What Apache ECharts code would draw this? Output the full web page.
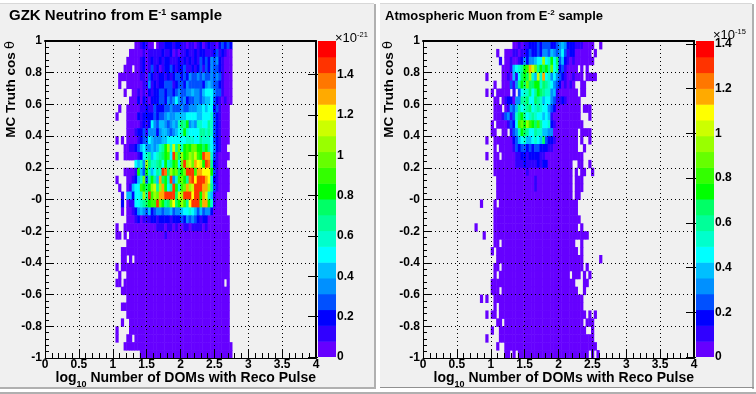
<!DOCTYPE html>
<html>
<head>
<meta charset="utf-8">
<style>html,body{margin:0;padding:0;background:#fff}#main{width:756px;height:394px}</style>
<script src="https://cdn.jsdelivr.net/npm/echarts@6/dist/echarts.min.js"></script>
</head>
<body>
<div id="main"></div>
<script>
// 20 palette bands of the ROOT colour scale, bottom to top
var palette = ['#6600ff','#3000ff','#0000ff','#0050ff','#0090ff','#00bfff','#00ffff','#00ffcc','#00ff99','#00ff66',
	'#00ff00','#33ff00','#66ff00','#99ff00','#ccff00','#ffff00','#ffaa00','#ff7700','#ff3300','#ff0000'];
var xTicks = 0.5, yTicks = 0.2;
var gzkMax = 1.567, muonMax = 1.413;
var gzkBarTicks = [0,0.2,0.4,0.6,0.8,1,1.2,1.4];
var muonBarTicks = [0,0.2,0.4,0.6,0.8,1,1.2,1.4];
var binsX = 0.04, binsY = 0.05;

// palette level per bin, one string per cosθ row from +1 down; first char is log10 bin 20
var gzkRows = [
".......... ...0012100 .011222122 1101101201 211023232.",
".......... .000001011 1112112010 1121121221 112312100.",
".......... 0000012012 1121221112 1212121323 243421000.",
".........0 00.0012013 1201223212 2311212313 243321000.",
".......000 0000011032 1122121233 2324334343 343431000.",
".......0.. 0000001141 2122333123 3243333324 543321000.",
".........0 ..00101021 2233233234 3344544356 664331000.",
".......... .000202102 2233243464 3423344345 563210100.",
".......0.. 0000011211 3222334333 4334445565 66231000..",
"......0... 0000212222 3233454455 5566665566 67321000..",
".......... 0000012126 4355434547 98a4547766 87321000..",
".......... 0001223144 4245543456 7a76666887 87321000..",
"......0.0. 0000123365 4445566666 6677766877 76321000..",
".........0 0112356445 4578ad7e8c 7abaccaa9a 8642100...",
"......0..0 0000126785 6789ab6ic9 dabdcebaig g7310000..",
".......... ...6574d97 7896a78ab6 cidecgfeai h821000...",
".........0 0001a53a75 687ih9dbc9 aciiibggff fa310000..",
"......0... 00125 7c38a 85g9a7i47b ca8hifiiig f7210000..",
".......0.. 01566ba9ad e8dga68ia7 bcgdeiiigg d8310000..",
"........1. 552667d8ib dcggiiii9e diiifiiage 7510000...",
"........2. 01166789ab bica89cf9a db8fiiibgg a710000...",
"........0. 0012454352 3443445344 5667653534 4200000...",
".......... 0001201112 2122221222 3243432122 00000000..",
"......0..0 0000000000 0111011010 0110111101 00000000..",
"......00.0 .000000000 0000100000 0000000000 00000000..",
".......... 0000000000 0000000000 0000000000 00000000..",
"........00 0000000000 0000000000 0000000000 00000000..",
"........00 .0.0000000 0000000000 0000000000 00000000..",
"......0.00 0000000000 0000000000 0000000000 00000000..",
".......0.. 0000000000 0000000000 0000000000 00000000..",
"......00.0 0000000000 0000000000 0000000000 000000.0..",
"........00 0000000000 0000000000 0000000000 00000000..",
".......... 0000000000 0000000000 0000000000 00000000..",
"........00 0000000000 0000000000 0000000000 00000000..",
".......... 0000000000 0000000000 0000000000 00000000..",
"........0. .000000000 0000000000 0000000000 00000000..",
"......0... .000000000 0000000000 0000000000 00000000..",
"......0... 00.0000000 0000000000 0000000000 00000000..",
".........0 0000000000 0000000000 0000000000 000000000.",
".......... .....00000 0000000000 0000000000 000000000."
];

// same idea, first char is log10 bin 10
var muonRows = [
".......... .......... ...0010112 2232333223 4542221110 000..0....",
".......... .......0.. 0001101123 2232443543 4631220000 00.0......",
".......... ........1. 0010012424 4566d67a69 3521010000 000.......",
".......... .........0 0015678abg ec8a9a8c68 2310000.0. 0.........",
".......... ...0.....0 0105169a9d 75e7g67464 321001000. 0000......",
".......... ......0..0 0031 48a9c9 9aa7987643 201010..00 ..........",
".......... ...0.0.000 00.1.36779 68a9877451 0000000.00 ..........",
".......... ......00.0 1220448896 6987566431 12100000.. ..........",
".......... ......000. 0143586789 6787664320 00000000.0 00........",
".......... ......0001 34137 9a867 8766565100 00000000.. .0........",
".......... .....0.000 01326bcadb a9b8667210 000000000. ..........",
".......... .....00..0 0.1347a986 6877554400 0000000.00 00........",
".......... ...0..0000 0002356755 6765932210 0000000.0. .0........",
".......... ......0.00 0001323323 2332221100 0000000..0 ..........",
".......... ...0..00.0 0000112212 2221100000 000000000. ..........",
".......... ......0000 0000111211 1121220000 00000..00. .0........",
".......... ......0000 0000000010 0000000000 00000.0.00 ..0.......",
".......... .......000 0000000000 0100000000 00000.000. ..........",
".......... .......000 0000000000 0100000000 00000.000. ..........",
".......... .......000 0000000000 0000000000 00000.00.. ..........",
".......... .0....0.00 0000000000 0000000000 0000000... ..........",
".......... ......0000 0000000000 0000000000 0000000... ..........",
".......... ......0000 0000000000 0000000000 00000000.. ..........",
".........0 ......0000 0000000000 0000000000 0000000.0. ..........",
".......... ..0...0000 0000000000 0000000000 0000000000 0.........",
".......... ......00.0 0000000000 0000000000 000000..0. ..........",
".......... .....0.000 0000000000 0000000000 0000000.0. ..........",
".......... .......000 0000000000 0000000000 000000000. .....0....",
".......... ......00.0 0000000000 0000000000 000000000. 0.........",
".......... ......0.00 0000000000 0000000000 0000.000.0 .0........",
".......... .....00000 0000000000 0000000000 000000...0 0.........",
".......... .....000.0 0000000000 0000000000 0000000..0 ..........",
".......... .0.0..0000 0000000000 0000000000 000000000. ..........",
".......... ......0.00 0000000000 0000000000 000000000. ..........",
".......... ...0.00.00 0000000000 0000000000 0000000000 .0.0......",
".......... .......00. 0000000000 0000000000 000000000. 000.......",
".......... .....0..00 0000000000 0000000000 0000000000 ..0.......",
".......... ...0....00 0000000000 0000000000 0000000000 000.......",
".......... .......0.. 0000000000 0000000000 0000000000 0000......",
".......... .......... 00.0.00000 0000000000 0000000000 0.0.0....."
];

function buildCells(rows, firstBin, zMax) {
	var cells = [];
	var step = zMax / palette.length;
	for (var r = 0; r < rows.length; r++) {
		var row = rows[r].replace(/ /g, '');
		for (var c = 0; c < row.length; c++) {
			if (row[c] == '.') continue;
			var level = parseInt(row[c], 20);
			cells.push([(firstBin + c) * binsX, 1 - (r + 1) * binsY, (level + 0.5) * step]);
		}
	}
	return cells;
}

function cellSeries(name, cells, zMax, idx) {
	var step = zMax / palette.length;
	return {
		name: name,
		type: 'custom',
		xAxisIndex: idx,
		yAxisIndex: idx,
		clip: true,
		z: 2,
		silent: true,
		data: cells,
		encode: {x: 0, y: 1},
		renderItem: function(params, api) {
			var a = api.coord([api.value(0), api.value(1) + binsY]);
			var b = api.coord([api.value(0) + binsX, api.value(1)]);
			var level = Math.min(palette.length - 1, Math.floor(api.value(2) / step));
			return {
				type: 'rect',
				shape: {x: a[0], y: a[1], width: b[0] - a[0] + 0.5, height: b[1] - a[1] + 0.5},
				style: {fill: palette[level]}
			};
		}
	};
}

function barSeries(zMax, idx) {
	var step = zMax / palette.length;
	var bands = [];
	for (var i = 0; i < palette.length; i++) bands.push([0, i * step, i]);
	return {
		type: 'custom',
		xAxisIndex: idx,
		yAxisIndex: idx,
		clip: true,
		silent: true,
		data: bands,
		encode: {x: 0, y: 1},
		renderItem: function(params, api) {
			var a = api.coord([0, api.value(1) + step]);
			var b = api.coord([1, api.value(1)]);
			return {
				type: 'rect',
				shape: {x: a[0], y: a[1], width: b[0] - a[0], height: b[1] - a[1] + 0.5},
				style: {fill: palette[api.value(2)]}
			};
		}
	};
}

var labelFont = {color: '#000', fontFamily: 'Liberation Sans', fontWeight: 'bold', fontSize: 12};
var nameRich = {
	a: {fontFamily: 'Liberation Sans', fontWeight: 'bold', fontSize: 14, color: '#000'},
	s: {fontFamily: 'Liberation Sans', fontWeight: 'bold', fontSize: 9, color: '#000', verticalAlign: 'bottom', padding: [13, 0, 0, 0]},
	b: {fontFamily: 'Liberation Sans', fontWeight: 'bold', fontSize: 13.5, color: '#000'},
	t: {fontFamily: 'DejaVu Sans', fontSize: 13, color: '#000'}
};
var dotted = {show: true, lineStyle: {color: '#000', type: [1, 3], width: 1}};

function mainX(gridIdx) {
	return {
		type: 'value', gridIndex: gridIdx, min: 0, max: 4, interval: xTicks, z: 5, position: 'bottom',
		axisLine: {show: true, onZero: false, lineStyle: {color: '#000', width: 1}},
		axisTick: {show: true, inside: true, length: 9, lineStyle: {color: '#000'}},
		minorTick: {show: true, splitNumber: 5, length: 5, lineStyle: {color: '#000'}},
		splitLine: dotted,
		axisLabel: Object.assign({margin: 1, showMinLabel: true, showMaxLabel: true, hideOverlap: false}, labelFont),
		name: '{a|log}{s|10}{a| Number of DOMs with Reco Pulse}',
		nameLocation: 'end',
		nameGap: 0,
		nameMoveOverlap: false,
		nameTextStyle: {align: 'right', verticalAlign: 'top', padding: [9, 0, 0, 0], rich: nameRich}
	};
}
function mainY(gridIdx) {
	return {
		type: 'value', gridIndex: gridIdx, min: -1, max: 1, interval: yTicks, z: 5, position: 'left',
		axisLine: {show: true, onZero: false, lineStyle: {color: '#000', width: 1}},
		axisTick: {show: true, inside: true, length: 8, lineStyle: {color: '#000'}},
		minorTick: {show: true, splitNumber: 5, length: 4, lineStyle: {color: '#000'}},
		splitLine: dotted,
		axisLabel: Object.assign({margin: 3, formatter: function(v) {
			return Math.abs(v) < 1e-6 ? '-0' : String(v);
		}}, labelFont),
		name: '{b|MC Truth cos} {t|θ}',
		nameLocation: 'end',
		nameRotate: 90,
		nameGap: 0,
		nameMoveOverlap: false,
		nameTextStyle: {align: 'right', verticalAlign: 'bottom', padding: [0, 0, 27, 0], rich: nameRich}
	};
}
// top and right frame edges, nothing else
function frameX(gridIdx) {
	return {type: 'value', gridIndex: gridIdx, min: 0, max: 4, position: 'top', z: 5,
		axisLine: {show: true, onZero: false, lineStyle: {color: '#000', width: 2}},
		axisTick: {show: false}, axisLabel: {show: false}, splitLine: {show: false}};
}
function frameY(gridIdx) {
	return {type: 'value', gridIndex: gridIdx, min: -1, max: 1, position: 'right', z: 5,
		axisLine: {show: true, onZero: false, lineStyle: {color: '#000', width: 2}},
		axisTick: {show: false}, axisLabel: {show: false}, splitLine: {show: false}};
}
function barX(gridIdx) {
	return {type: 'value', gridIndex: gridIdx, min: 0, max: 1, show: false};
}
function barY(gridIdx, zMax, ticks) {
	return {
		type: 'value', gridIndex: gridIdx, min: 0, max: zMax, position: 'right', z: 5,
		axisLine: {show: false},
		axisTick: {show: true, inside: true, length: 10, customValues: ticks, lineStyle: {color: '#000'}},
		axisLabel: Object.assign({margin: 1, customValues: ticks}, labelFont),
		splitLine: {show: false}
	};
}

var myChart = echarts.init(document.getElementById('main'));
var option = {
	animation: false,
	backgroundColor: '#ffffff',
	graphic: [
		{type: 'rect', z: -5, shape: {x: 0, y: 3, width: 374, height: 384}, style: {fill: '#f0f0f0'}},
		{type: 'rect', z: -5, shape: {x: 0, y: 3, width: 374, height: 1}, style: {fill: '#d8d8d8'}},
		{type: 'rect', z: -5, shape: {x: 374, y: 4, width: 2, height: 385}, style: {fill: '#b0b0b0'}},
		{type: 'rect', z: -5, shape: {x: 0, y: 387, width: 376, height: 2}, style: {fill: '#b0b0b0'}},
		{type: 'rect', z: -5, shape: {x: 380, y: 3, width: 372, height: 384}, style: {fill: '#f0f0f0'}},
		{type: 'rect', z: -5, shape: {x: 380, y: 3, width: 372, height: 1}, style: {fill: '#d8d8d8'}},
		{type: 'rect', z: -5, shape: {x: 752, y: 4, width: 2, height: 385}, style: {fill: '#b0b0b0'}},
		{type: 'rect', z: -5, shape: {x: 380, y: 387, width: 374, height: 1}, style: {fill: '#909090'}},
		{type: 'rect', z: -5, shape: {x: 0, y: 392, width: 756, height: 2}, style: {fill: '#b0b0b0'}}
	],
	title: [
		{left: 9, top: 8, padding: 0, text: 'GZK Neutrino from E{s|-1} sample', textStyle: {color: '#000', fontFamily: 'Liberation Sans', fontWeight: 'bold', fontSize: 15,
			rich: {s: {fontFamily: 'Liberation Sans', fontWeight: 'bold', fontSize: 9, color: '#000', padding: [0, 0, 7, 0]}}}},
		{left: 385, top: 9, padding: 0, text: 'Atmospheric Muon from E{s|-2} sample', textStyle: {color: '#000', fontFamily: 'Liberation Sans', fontWeight: 'bold', fontSize: 13,
			rich: {s: {fontFamily: 'Liberation Sans', fontWeight: 'bold', fontSize: 8, color: '#000', padding: [0, 0, 7, 0]}}}},
		{left: 335, top: 31, padding: 0, text: '×10{s|-21}', textStyle: {color: '#000', fontFamily: 'Liberation Sans', fontWeight: 'normal', fontSize: 13,
			rich: {s: {fontFamily: 'Liberation Sans', fontSize: 7.5, color: '#000', padding: [0, 0, 6, 0]}}}},
		{left: 713, top: 28, padding: 0, text: '×10{s|-15}', textStyle: {color: '#000', fontFamily: 'Liberation Sans', fontWeight: 'normal', fontSize: 13,
			rich: {s: {fontFamily: 'Liberation Sans', fontSize: 7.5, color: '#000', padding: [0, 0, 6, 0]}}}}
	],
	grid: [
		{left: 45, top: 41, width: 271, height: 317, outerBoundsMode: 'none'},
		{left: 423, top: 41, width: 271, height: 317, outerBoundsMode: 'none'},
		{left: 318, top: 41, width: 18, height: 316, outerBoundsMode: 'none'},
		{left: 696, top: 41, width: 18, height: 316, outerBoundsMode: 'none'}
	],
	xAxis: [mainX(0), mainX(1), barX(2), barX(3), frameX(0), frameX(1)],
	yAxis: [mainY(0), mainY(1), barY(2, gzkMax, gzkBarTicks), barY(3, muonMax, muonBarTicks), frameY(0), frameY(1)],
	series: [
		cellSeries('GZK Neutrino', buildCells(gzkRows, 20, gzkMax), gzkMax, 0),
		cellSeries('Atmospheric Muon', buildCells(muonRows, 10, muonMax), muonMax, 1),
		barSeries(gzkMax, 2),
		barSeries(muonMax, 3)
	]
};
myChart.setOption(option);
</script>
</body>
</html>
